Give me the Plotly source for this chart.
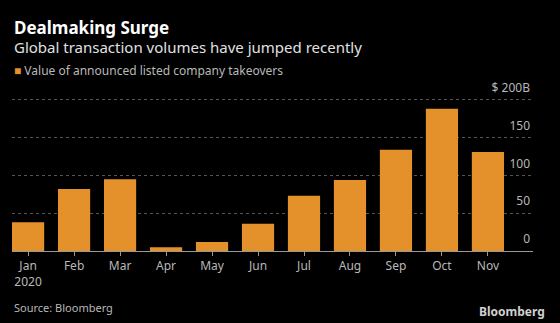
import plotly.graph_objects as go

months = ["Jan", "Feb", "Mar", "Apr", "May", "Jun", "Jul", "Aug", "Sep", "Oct", "Nov"]
tick_labels = ["Jan<br>2020", "Feb", "Mar", "Apr", "May", "Jun", "Jul", "Aug", "Sep", "Oct", "Nov"]
values = [38, 82, 95, 5, 12, 36, 73, 94, 134, 188, 131]
y_ticks = [0, 50, 100, 150, 200]
y_tick_text = ["0", "50", "100", "150", "$ 200B"]
series_name = "Value of announced listed company takeovers"

FONT = "Noto Sans"
ORANGE = "#e4912c"
GRAY = "#b8b8b8"

W, H = 560, 323
YMAX = 230
l, r, b = 12, 27, 72
t = round(100 - (YMAX - 200) * 0.755)
pw, ph = W - l - r, H - t - b

def px(x, y):
    return (x - l) / pw, (H - b - y) / ph

fig = go.Figure()
fig.add_trace(go.Bar(
    x=list(range(len(months))), y=values, marker_color=ORANGE, marker_line_width=0,
    name=series_name, showlegend=False,
))

def ann(text, x, y, size, color, anchor="left"):
    ax, ay = px(x, y)
    return dict(text=text, x=ax, y=ay, xref="paper", yref="paper", showarrow=False,
                xanchor=anchor, yanchor="middle", font=dict(family=FONT, size=size, color=color))

fig.update_layout(
    width=W, height=H,
    margin=dict(l=l, r=r, t=t, b=b),
    paper_bgcolor="black", plot_bgcolor="black",
    bargap=0.3,
    showlegend=False,
    xaxis=dict(
        range=[-0.35, 10.98], tickmode="array", tickvals=list(range(len(months))),
        ticktext=tick_labels, ticks="outside", ticklen=4, tickcolor="#999",
        showline=True, linecolor="#999", linewidth=1, showgrid=False, zeroline=False,
        tickfont=dict(family=FONT, size=12, color=GRAY), automargin=False,
    ),
    yaxis=dict(
        range=[0, YMAX], side="right", tickmode="array", tickvals=y_ticks, ticktext=y_tick_text,
        ticklabelposition="inside", ticklabelshift=-12, ticks="",
        showgrid=True, gridcolor="#555", griddash="dot", gridwidth=1, zeroline=False,
        tickfont=dict(family=FONT, size=12, color=GRAY), automargin=False,
    ),
    annotations=[
        ann("<b>Dealmaking Surge</b>", 12, 27, 17, "white"),
        ann("Global transaction volumes have jumped recently", 12, 47, 15, "#e0e0e0"),
        ann(f"<span style='color:{ORANGE}'>■</span> {series_name}", 12, 71, 12, GRAY),
        ann("Source: Bloomberg", 12, 307, 11, GRAY),
        ann("<b>Bloomberg</b>", 547, 311, 12, "#d0d0d0", anchor="right"),
    ],
)

fig.write_html("out.html")
